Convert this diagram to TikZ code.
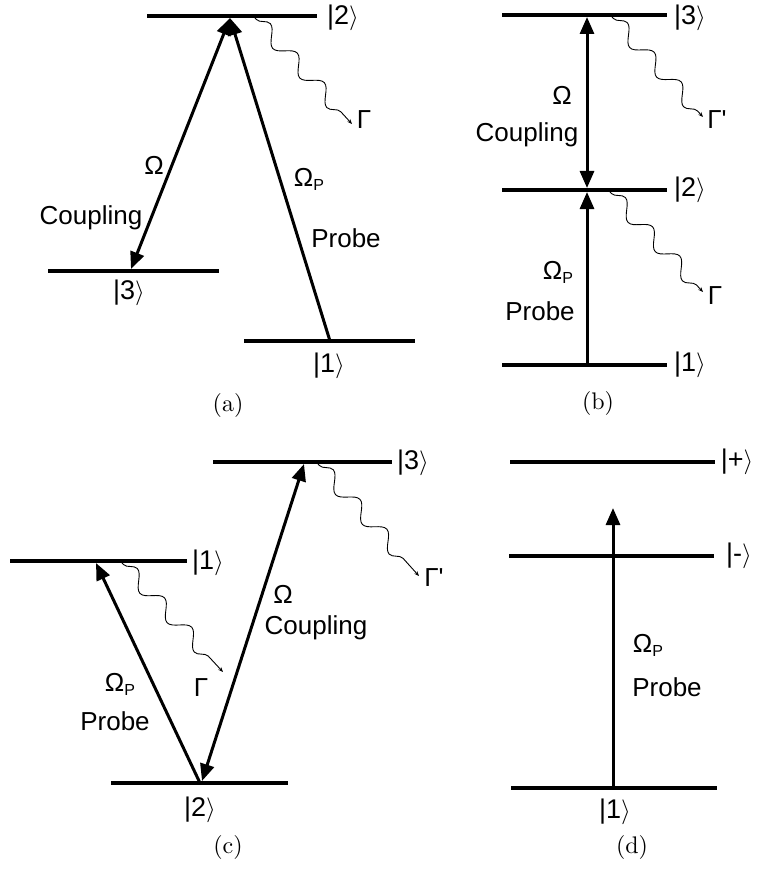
\documentclass[tikz,border=0pt]{standalone}
\usepackage{fontspec}
\newfontfamily\labfont{Liberation Sans}
\newfontfamily\capfont{lmroman10-regular}[Extension=.otf]
\usetikzlibrary{arrows.meta,decorations.pathmorphing}
\newcommand\myket[1]{{\fontsize{27}{30}\selectfont|#1$\rangle$}}
\newcommand\OmP{Ω\raisebox{-0.3ex}{\fontsize{16}{16}\selectfont P}}
\begin{document}
\begin{tikzpicture}[x=1pt,y=-1pt,
  lvl/.style={line width=4pt},
  trans/.style={line width=3pt,-{Triangle[length=17pt,width=14pt]}},
  dtrans/.style={line width=3pt,{Triangle[length=17pt,width=14pt]}-{Triangle[length=17pt,width=14pt]}},
  decay/.style={line width=0.9pt,-{Stealth[length=5pt,width=4pt]},decorate,
    decoration={snake,amplitude=7.5pt,segment length=40pt,pre length=2pt,post length=5pt}},
  lab/.style={font=\labfont\fontsize{26}{30}\selectfont,inner sep=0pt},
  captxt/.style={font=\capfont\fontsize{24}{28}\selectfont,inner sep=0pt}]
\useasboundingbox (0,0) rectangle (759,869);
% ---------- (a) ----------
\coordinate (a2L) at (147,16); \coordinate (a2R) at (317,16);
\coordinate (a3L) at (48,271); \coordinate (a3R) at (219,271);
\coordinate (a1L) at (244,341); \coordinate (a1R) at (415,341);
\coordinate (aTop) at (230,18); \coordinate (a3p) at (131,269); \coordinate (a1p) at (330,341);
\coordinate (awS) at (255,18); \coordinate (awE) at (352,124);
\draw[lvl] (a2L) -- (a2R);
\draw[lvl] (a3L) -- (a3R);
\draw[lvl] (a1L) -- (a1R);
\draw[dtrans] (a3p) -- (aTop);
\draw[trans] (a1p) -- (aTop);
\draw[decay] (awS) -- (awE);
\node[lab] (ak2) at (343,18) {\myket{2}};
\node[lab] (ak3) at (129,293) {\myket{3}};
\node[lab] (ak1) at (329,366) {\myket{1}};
\node[lab] (aO) at (154,165) {Ω};
\node[lab] (aC) at (91,218) {Coupling};
\node[lab] (aOP) at (309,179) {\OmP};
\node[lab] (aP) at (346,238) {Probe};
\node[lab] (aG) at (364,120) {Γ};
\node[captxt] (acap) at (228,405) {(a)};
% ---------- (b) ----------
\coordinate (b3L) at (502,15); \coordinate (b3R) at (667,15);
\coordinate (b2L) at (502,190); \coordinate (b2R) at (667,190);
\coordinate (b1L) at (502,365); \coordinate (b1R) at (667,365);
\coordinate (b3p) at (587,17); \coordinate (b2u) at (587,188);
\coordinate (b2d) at (587,192); \coordinate (b1p) at (587,365);
\coordinate (bw1S) at (612,17); \coordinate (bw1E) at (703,117);
\coordinate (bw2S) at (610,192); \coordinate (bw2E) at (703,292);
\draw[lvl] (b3L) -- (b3R);
\draw[lvl] (b2L) -- (b2R);
\draw[lvl] (b1L) -- (b1R);
\draw[dtrans] (b2u) -- (b3p);
\draw[trans] (b1p) -- (b2d);
\draw[decay] (bw1S) -- (bw1E);
\draw[decay] (bw2S) -- (bw2E);
\node[lab] (bk3) at (690,18) {\myket{3}};
\node[lab] (bk2) at (690,190) {\myket{2}};
\node[lab] (bk1) at (690,365) {\myket{1}};
\node[lab] (bO) at (562,95) {Ω};
\node[lab] (bC) at (527,135) {Coupling};
\node[lab] (bOP) at (558,272) {\OmP};
\node[lab] (bP) at (540,311) {Probe};
\node[lab] (bG1) at (717,120) {Γ'};
\node[lab] (bG2) at (715,296) {Γ};
\node[captxt] (bcap) at (598,403) {(b)};
% ---------- (c) ----------
\coordinate (c3L) at (213,462); \coordinate (c3R) at (392,462);
\coordinate (c1L) at (10,561); \coordinate (c1R) at (187,561);
\coordinate (c2L) at (111,783); \coordinate (c2R) at (288,783);
\coordinate (c2p) at (200,783); \coordinate (c1p) at (96,563);
\coordinate (c2q) at (202,781); \coordinate (c3p) at (304,464);
\coordinate (cw1S) at (122,563); \coordinate (cw1E) at (223,672);
\coordinate (cw2S) at (318,464); \coordinate (cw2E) at (419,576);
\draw[lvl] (c3L) -- (c3R);
\draw[lvl] (c1L) -- (c1R);
\draw[lvl] (c2L) -- (c2R);
\draw[trans] (c2p) -- (c1p);
\draw[dtrans] (c2q) -- (c3p);
\draw[decay] (cw1S) -- (cw1E);
\draw[decay] (cw2S) -- (cw2E);
\node[lab] (ck3) at (413,463) {\myket{3}};
\node[lab] (ck1) at (208,563) {\myket{1}};
\node[lab] (ck2) at (200,810) {\myket{2}};
\node[lab] (cO) at (283,594) {Ω};
\node[lab] (cC) at (316,628) {Coupling};
\node[lab] (cOP) at (120,684) {\OmP};
\node[lab] (cP) at (115,721) {Probe};
\node[lab] (cG1) at (201,688) {Γ};
\node[lab] (cG2) at (434,578) {Γ'};
\node[captxt] (ccap) at (228,847) {(c)};
% ---------- (d) ----------
\coordinate (dpL) at (510,462); \coordinate (dpR) at (715,462);
\coordinate (dmL) at (509,556); \coordinate (dmR) at (714,556);
\coordinate (d1L) at (511,788); \coordinate (d1R) at (717,788);
\coordinate (d1p) at (613,788); \coordinate (dtip) at (613,508);
\draw[lvl] (dpL) -- (dpR);
\draw[lvl] (dmL) -- (dmR);
\draw[lvl] (d1L) -- (d1R);
\draw[trans] (d1p) -- (dtip);
\node[lab] (dkp) at (737,462) {\myket{+}};
\node[lab] (dkm) at (739,556) {\myket{-}};
\node[lab] (dk1) at (615,812) {\myket{1}};
\node[lab] (dOP) at (648,645) {\OmP};
\node[lab] (dP) at (667,687) {Probe};
\node[captxt] (dcap) at (632,847) {(d)};
\end{tikzpicture}
\end{document}
